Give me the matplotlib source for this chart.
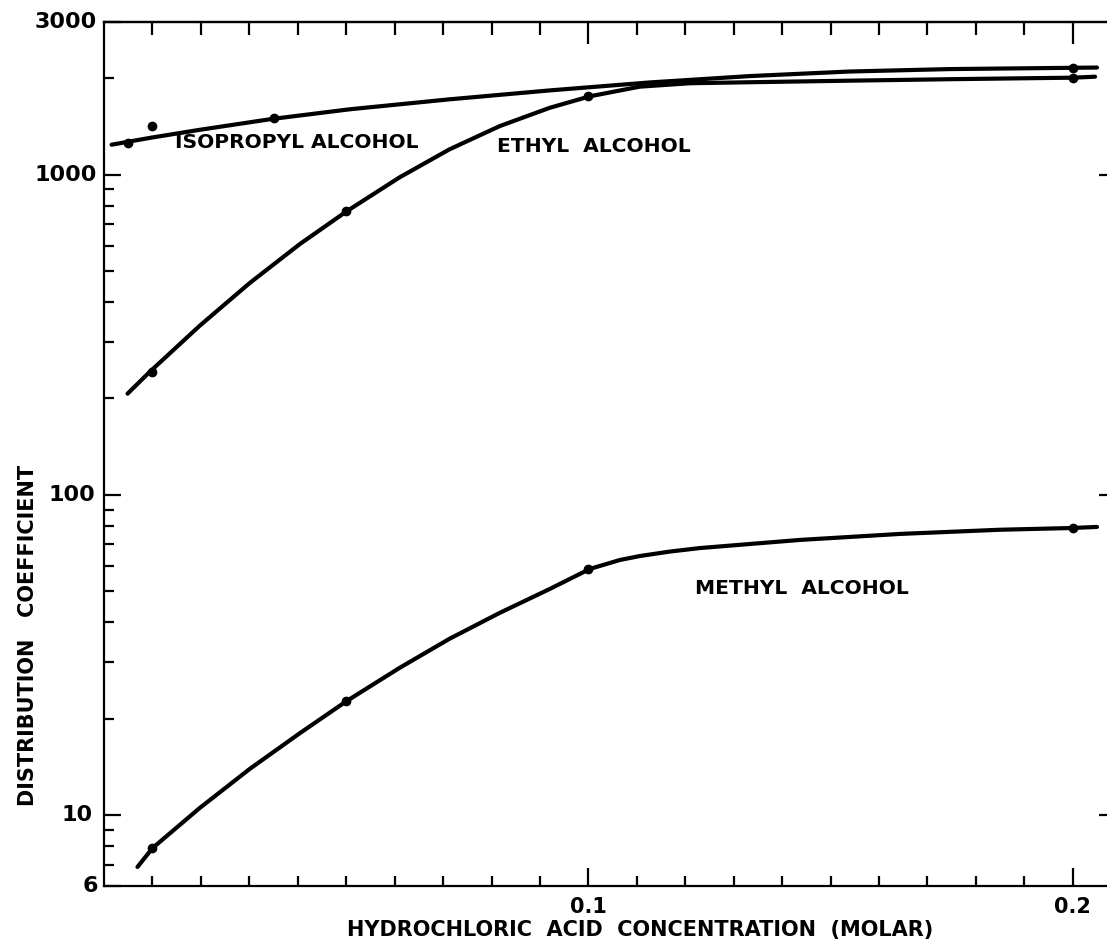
import matplotlib
matplotlib.use('Agg')
import matplotlib.pyplot as plt
import matplotlib.transforms as mtransforms
from matplotlib.ticker import FixedLocator, FixedFormatter, NullFormatter, NullLocator

# molar HCl concentration vs distribution coefficient
iso_x = [0.00155, 0.0094, 0.0197, 0.0346, 0.0507, 0.0713, 0.092, 0.1126, 0.1333, 0.1539, 0.1746, 0.2, 0.205]
iso_y = [1241, 1303, 1381, 1493, 1601, 1720, 1834, 1942, 2033, 2101, 2138, 2158, 2162]
iso_pts_x = [0.005, 0.01, 0.035, 0.2]
iso_pts_y = [1259, 1423, 1500, 2158]

eth_x = [0.00485, 0.0094, 0.0197, 0.03, 0.0404, 0.0501, 0.061, 0.0713, 0.0817, 0.092, 0.1003,
         0.1106, 0.1209, 0.1333, 0.1539, 0.1746, 0.2, 0.2046]
eth_y = [207, 242, 337, 458, 607, 769, 981, 1200, 1419, 1618, 1758,
         1884, 1931, 1945, 1967, 1988, 2010, 2024]
eth_pts_x = [0.01, 0.05, 0.1, 0.2]
eth_pts_y = [242, 769, 1758, 2010]

meth_x = [0.0069, 0.01, 0.0197, 0.03, 0.0404, 0.0501, 0.061, 0.0713, 0.0817, 0.092, 0.1003,
          0.1065, 0.1106, 0.1168, 0.123, 0.1436, 0.1643, 0.1849, 0.2, 0.205]
meth_y = [6.88, 7.88, 10.5, 13.9, 18.0, 22.7, 28.8, 35.5, 42.8, 50.8, 58.7,
          62.6, 64.4, 66.5, 68.2, 72.3, 75.5, 77.8, 78.8, 79.4]
meth_pts_x = [0.01, 0.05, 0.1, 0.2]
meth_pts_y = [7.88, 22.7, 58.7, 78.8]

y_ticks = [6, 10, 100, 1000, 3000]
y_tick_labels = ['6', '10', '100', '1000', '3000']
y_label_offsets = [-0.006, -0.011, -0.009, -0.007, -0.007]
x_major = [0.1, 0.2]
x_major_labels = ['0.1', '0.2']
x_minor = [i / 100 for i in range(1, 21) if i not in (10, 20)]

plt.rcParams['font.family'] = 'DejaVu Sans'
fig = plt.figure(figsize=(11.07, 9.48), dpi=100)
ax = fig.add_axes([0.094, 0.0654, 0.9079, 0.9114])

lw = 3.0
for xs, ys, px, py in [(iso_x, iso_y, iso_pts_x, iso_pts_y),
                       (eth_x, eth_y, eth_pts_x, eth_pts_y),
                       (meth_x, meth_y, meth_pts_x, meth_pts_y)]:
    ax.plot(xs, ys, color='black', lw=lw, solid_capstyle='round', solid_joinstyle='round')
    ax.plot(px, py, 'o', color='black', ms=6)

ax.set_yscale('log')
ax.set_xlim(0, 0.2075)
ax.set_ylim(6, 3000)

for side in ['left', 'bottom', 'top']:
    ax.spines[side].set_linewidth(1.6)
ax.spines['right'].set_visible(False)

# y ticks, labels drawn separately
ax.yaxis.set_major_locator(FixedLocator(y_ticks))
ax.yaxis.set_major_formatter(NullFormatter())
ax.yaxis.set_minor_locator(FixedLocator([m * 10 ** e for e in range(0, 4) for m in range(2, 10)
                                         if 6 < m * 10 ** e < 3000]))
ax.yaxis.set_minor_formatter(NullFormatter())
ax.tick_params(axis='y', which='major', direction='in', length=12, width=1.6, left=True, right=False)
ax.tick_params(axis='y', which='minor', direction='in', length=7, width=1.6, left=True, right=False)

trans = mtransforms.blended_transform_factory(ax.transAxes, ax.transData)
for val, txt, off in zip(y_ticks, y_tick_labels, y_label_offsets):
    ax.text(off, val, txt, transform=trans, ha='right', va='center',
            fontsize=16, fontweight='bold')

# x ticks on the bottom
ax.xaxis.set_major_locator(FixedLocator(x_major))
ax.xaxis.set_major_formatter(FixedFormatter(x_major_labels))
ax.xaxis.set_minor_locator(FixedLocator(x_minor))
ax.tick_params(axis='x', which='major', direction='in', length=13, width=1.6, labelsize=15, pad=8, top=False)
ax.tick_params(axis='x', which='minor', direction='in', length=7, width=1.6, top=False)
for lab in ax.get_xticklabels():
    lab.set_fontweight('bold')

# ticks along the top
top = ax.secondary_xaxis('top')
top.xaxis.set_major_locator(FixedLocator(x_major))
top.xaxis.set_minor_locator(FixedLocator(x_minor))
top.xaxis.set_major_formatter(NullFormatter())
top.tick_params(which='major', direction='in', length=16, width=1.6)
top.tick_params(which='minor', direction='in', length=9, width=1.6)
top.spines['top'].set_linewidth(1.6)

# short ticks on the right edge
right = ax.secondary_yaxis('right')
right.yaxis.set_major_locator(FixedLocator([10, 100, 1000]))
right.yaxis.set_minor_locator(NullLocator())
right.yaxis.set_major_formatter(NullFormatter())
right.tick_params(which='major', direction='in', length=7, width=1.6)
right.spines['right'].set_visible(False)

# curve names
ax.text(0.0146, 1259, 'ISOPROPYL ALCOHOL', fontsize=14.6, fontweight='bold', va='center', ha='left')
ax.text(0.0811, 1223, 'ETHYL  ALCOHOL', fontsize=14.6, fontweight='bold', va='center', ha='left')
ax.text(0.122, 51, 'METHYL  ALCOHOL', fontsize=14.6, fontweight='bold', va='center', ha='left')

fig.text(640 / 1107, 1 - 930 / 948, 'HYDROCHLORIC  ACID  CONCENTRATION  (MOLAR)',
         ha='center', va='center', fontsize=15, fontweight='bold')
fig.text(28 / 1107, 1 - 635 / 948, 'DISTRIBUTION   COEFFICIENT', rotation=90,
         ha='center', va='center', fontsize=15, fontweight='bold')

fig.savefig('out.png', dpi=100)
